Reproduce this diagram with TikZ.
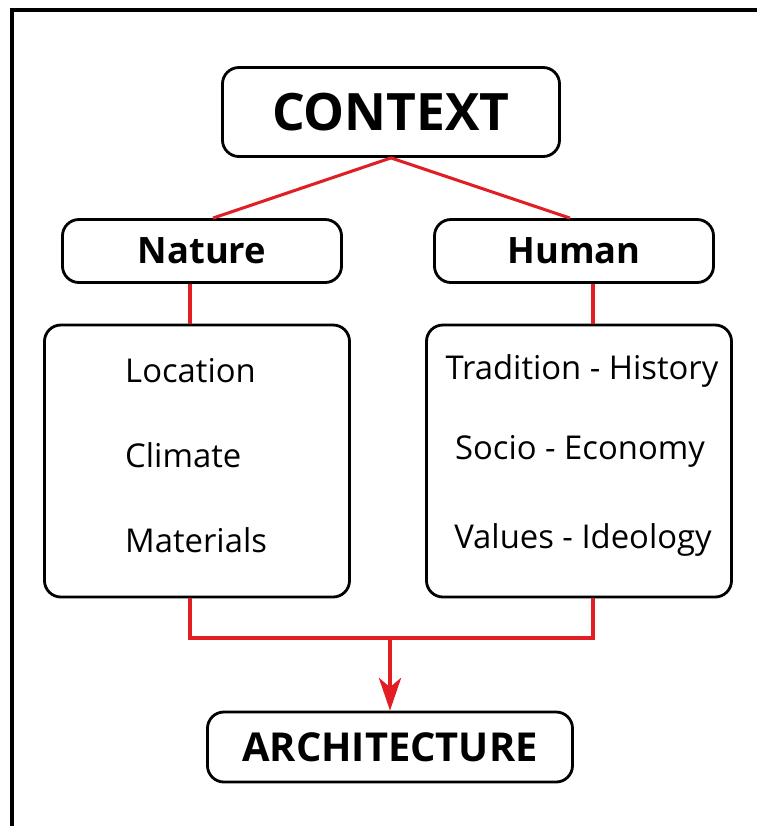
\documentclass[tikz,border=0pt]{standalone}
\usepackage{fontspec}
\setmainfont{Open Sans}
\usetikzlibrary{arrows.meta}
\definecolor{linkred}{HTML}{E01E24}
\tikzset{
  box/.style={draw, line width=2.4pt, rounded corners=14pt, inner sep=0pt},
  link/.style={draw=linkred, line width=2.6pt},
  item/.style={font=\fontsize{28}{34}\selectfont, inner sep=0pt}
}
\begin{document}
\begin{tikzpicture}[x=0.03cm, y=-0.03cm]
  \useasboundingbox (0,0) rectangle (757,826);
  \draw[line width=2.8pt] (12,830) |- (760,10);
  \node[box, minimum width=10.11cm, minimum height=2.67cm,
    font=\fontsize{44}{50}\bfseries] (context) at (391,112) {CONTEXT};
  \node[box, minimum width=8.37cm, minimum height=1.89cm,
    font=\fontsize{31}{37}\bfseries] (nature) at (202,251) {Nature};
  \node[box, minimum width=8.37cm, minimum height=1.89cm,
    font=\fontsize{31}{37}\bfseries] (human) at (574,251) {Human};
  \node[box, minimum width=9.15cm, minimum height=8.16cm] (naturebox) at (197,461) {};
  \node[box, minimum width=9.15cm, minimum height=8.16cm] (humanbox) at (579,461) {};
  \node[box, minimum width=10.95cm, minimum height=2.1cm,
    font=\fontsize{34}{40}\bfseries] (arch) at (390,747) {ARCHITECTURE};
  \node[item, anchor=west] (loc) at (125,371) {Location};
  \node[item, anchor=west] (clim) at (125,455) {Climate};
  \node[item, anchor=west] (mat) at (125,540) {Materials};
  \node[item] (trad) at (582,371) {Tradition - History};
  \node[item] (socio) at (580,451) {Socio - Economy};
  \node[item] (values) at (583,540) {Values - Ideology};
  % legs of the red links
  \coordinate (nin) at (213,0);
  \coordinate (hin) at (570,0);
  \coordinate (nleg) at (190,0);
  \coordinate (hleg) at (593,0);
  \coordinate (join) at (390,638);
  \begin{scope}[link]
    \draw (context.south) -- (nature.north -| nin);
    \draw (context.south) -- (human.north -| hin);
    \draw (nature.south -| nleg) -- (naturebox.north -| nleg);
    \draw (human.south -| hleg) -- (humanbox.north -| hleg);
    \draw (naturebox.south -| nleg) |- (join) -| (humanbox.south -| hleg);
    \draw[-{Stealth[length=28pt, width=19pt, inset=8pt]}] (join) -- (arch.north);
  \end{scope}
\end{tikzpicture}
\end{document}
